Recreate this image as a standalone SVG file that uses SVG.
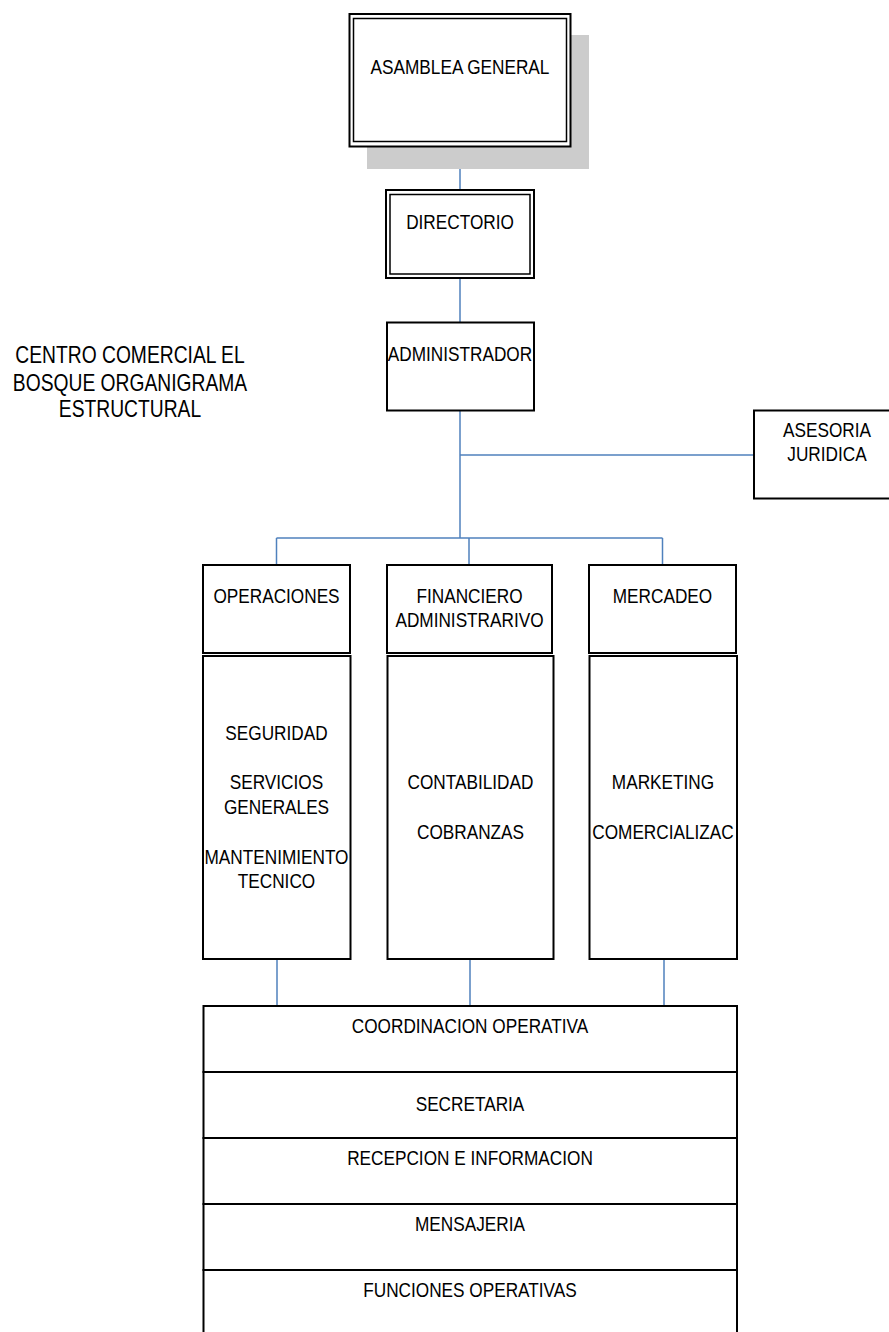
<svg xmlns="http://www.w3.org/2000/svg" width="889" height="1332" viewBox="0 0 889 1332">
<style>
.box{fill:#fff;stroke:#000;stroke-width:2}
.inner{fill:none;stroke:#000;stroke-width:1.5}
.t{font-family:"Liberation Sans",Arial,sans-serif;font-size:21px;fill:#000;text-anchor:middle}
.title{font-family:"Liberation Sans",Arial,sans-serif;font-size:23.5px;fill:#000;text-anchor:middle}
.c{stroke:#4f81bd;stroke-width:1.5;fill:none}
</style>
<rect width="889" height="1332" fill="#fff"/>
<g id="title">
<text class="title" transform="matrix(0.82 0 0 1 130 363.3)">CENTRO COMERCIAL EL</text>
<text class="title" transform="matrix(0.82 0 0 1 130 390.7)">BOSQUE ORGANIGRAMA</text>
<text class="title" transform="matrix(0.82 0 0 1 130 417.3)">ESTRUCTURAL</text>
</g>
<g id="connectors">
<line class="c" x1="460" y1="147" x2="460" y2="190"/>
<line class="c" x1="460" y1="278" x2="460" y2="322"/>
<line class="c" x1="460" y1="410" x2="460" y2="538"/>
<line class="c" x1="460" y1="455" x2="754" y2="455"/>
<line class="c" x1="276.5" y1="538" x2="662.5" y2="538"/>
<line class="c" x1="276.5" y1="538" x2="276.5" y2="565"/>
<line class="c" x1="469" y1="538" x2="469" y2="565"/>
<line class="c" x1="662.5" y1="538" x2="662.5" y2="565"/>
<line class="c" x1="277" y1="959" x2="277" y2="1010"/>
<line class="c" x1="470" y1="955" x2="470" y2="1006"/>
<line class="c" x1="664" y1="959" x2="664" y2="1006"/>
</g>
<g id="asamblea">
<rect x="367" y="35" width="222" height="134" fill="#cccccc"/>
<rect class="box" x="349.5" y="14" width="221" height="132.5"/>
<rect class="inner" x="353.5" y="18.5" width="213" height="123"/>
<text class="t" transform="matrix(0.82 0 0 1 460 74)">ASAMBLEA GENERAL</text>
</g>
<g id="directorio">
<rect class="box" x="386" y="190" width="148" height="88"/>
<rect class="inner" x="390" y="194.5" width="140" height="79.5"/>
<text class="t" transform="matrix(0.82 0 0 1 460 229)">DIRECTORIO</text>
</g>
<g id="administrador">
<rect class="box" x="387" y="322.5" width="147" height="88"/>
<text class="t" transform="matrix(0.82 0 0 1 460 361)">ADMINISTRADOR</text>
</g>
<g id="asesoria">
<rect class="box" x="754" y="410.5" width="150" height="88"/>
<text class="t" transform="matrix(0.82 0 0 1 827 436.5)">ASESORIA</text>
<text class="t" transform="matrix(0.82 0 0 1 827 461)">JURIDICA</text>
</g>
<g id="operaciones">
<rect class="box" x="203" y="565" width="147" height="88"/>
<text class="t" transform="matrix(0.82 0 0 1 276.5 603)">OPERACIONES</text>
</g>
<g id="financiero">
<rect class="box" x="387" y="565" width="165" height="88"/>
<text class="t" transform="matrix(0.82 0 0 1 469.5 603)">FINANCIERO</text>
<text class="t" transform="matrix(0.82 0 0 1 469.5 627)">ADMINISTRARIVO</text>
</g>
<g id="mercadeo">
<rect class="box" x="589" y="565" width="147" height="88"/>
<text class="t" transform="matrix(0.82 0 0 1 662.5 603)">MERCADEO</text>
</g>
<g id="operaciones-areas">
<rect class="box" x="203" y="656" width="147.5" height="303"/>
<text class="t" transform="matrix(0.82 0 0 1 276.5 739.5)">SEGURIDAD</text>
<text class="t" transform="matrix(0.82 0 0 1 276.5 789)">SERVICIOS</text>
<text class="t" transform="matrix(0.82 0 0 1 276.5 813.7)">GENERALES</text>
<text class="t" transform="matrix(0.82 0 0 1 276.5 863.5)">MANTENIMIENTO</text>
<text class="t" transform="matrix(0.82 0 0 1 276.5 887.5)">TECNICO</text>
</g>
<g id="financiero-areas">
<rect class="box" x="387.5" y="656" width="166" height="303"/>
<text class="t" transform="matrix(0.82 0 0 1 470.5 789)">CONTABILIDAD</text>
<text class="t" transform="matrix(0.82 0 0 1 470.5 839)">COBRANZAS</text>
</g>
<g id="mercadeo-areas">
<rect class="box" x="589.5" y="656" width="147.5" height="303"/>
<text class="t" transform="matrix(0.82 0 0 1 663 789)">MARKETING</text>
<text class="t" transform="matrix(0.82 0 0 1 663 839)">COMERCIALIZAC</text>
</g>
<g id="coordinacion">
<rect class="box" x="203.5" y="1006" width="533.5" height="66"/>
<text class="t" transform="matrix(0.82 0 0 1 470 1033)">COORDINACION OPERATIVA</text>
</g>
<g id="secretaria">
<rect class="box" x="203.5" y="1072" width="533.5" height="66"/>
<text class="t" transform="matrix(0.82 0 0 1 470 1111)">SECRETARIA</text>
</g>
<g id="recepcion">
<rect class="box" x="203.5" y="1138" width="533.5" height="66"/>
<text class="t" transform="matrix(0.82 0 0 1 470 1165)">RECEPCION E INFORMACION</text>
</g>
<g id="mensajeria">
<rect class="box" x="203.5" y="1204" width="533.5" height="66"/>
<text class="t" transform="matrix(0.82 0 0 1 470 1231)">MENSAJERIA</text>
</g>
<g id="funciones">
<rect class="box" x="203.5" y="1270" width="533.5" height="80"/>
<text class="t" transform="matrix(0.82 0 0 1 470 1297)">FUNCIONES OPERATIVAS</text>
</g>
</svg>
